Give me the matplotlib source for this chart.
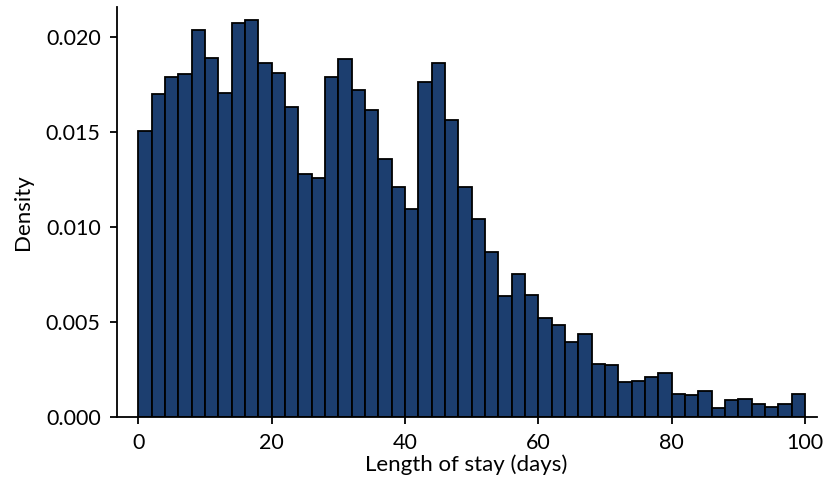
import matplotlib
matplotlib.use("Agg")
import matplotlib.pyplot as plt
import numpy as np

plt.rcParams['font.family'] = ['Lato', 'DejaVu Sans']

bin_edges = list(range(0, 102, 2))
density = [0.01506, 0.01699, 0.01790, 0.01804, 0.02035, 0.01888, 0.01704, 0.02070, 0.02088, 0.01860,
           0.01811, 0.01629, 0.01279, 0.01256, 0.01790, 0.01884, 0.01720, 0.01615, 0.01356, 0.01212,
           0.01095, 0.01762, 0.01860, 0.01562, 0.01212, 0.01040, 0.00867, 0.00637, 0.00753, 0.00643,
           0.00525, 0.00485, 0.00394, 0.00438, 0.00280, 0.00273, 0.00184, 0.00191, 0.00212, 0.00234,
           0.00121, 0.00116, 0.00140, 0.00049, 0.00091, 0.00096, 0.00072, 0.00054, 0.00072, 0.00124]
x_ticks = [0, 20, 40, 60, 80, 100]
y_ticks = [0.000, 0.005, 0.010, 0.015, 0.020]

fig = plt.figure(figsize=(8.27, 4.86), dpi=100)
ax = fig.add_axes([0.1411, 0.141, 0.8464, 0.8446])

edges = np.array(bin_edges)
ax.bar(edges[:-1], density, width=np.diff(edges), align='edge',
       color='#1c3e6f', edgecolor='black', linewidth=1.3)

ax.set_xlim(-3.25, 101.75)
ax.set_ylim(0, 0.02156)
ax.set_xticks(x_ticks)
ax.set_yticks(y_ticks)
ax.set_yticklabels([f"{v:.3f}" for v in y_ticks])
ax.tick_params(labelsize=15.5, width=1.3, length=5, pad=6.5, color='black')
for s in ['top', 'right']:
    ax.spines[s].set_visible(False)
for s in ['left', 'bottom']:
    ax.spines[s].set_linewidth(1.3)
ax.set_xlabel('Length of stay (days)', fontsize=16, labelpad=1)
ax.set_ylabel('Density', fontsize=16, labelpad=9)

fig.savefig('out.png', dpi=100)
